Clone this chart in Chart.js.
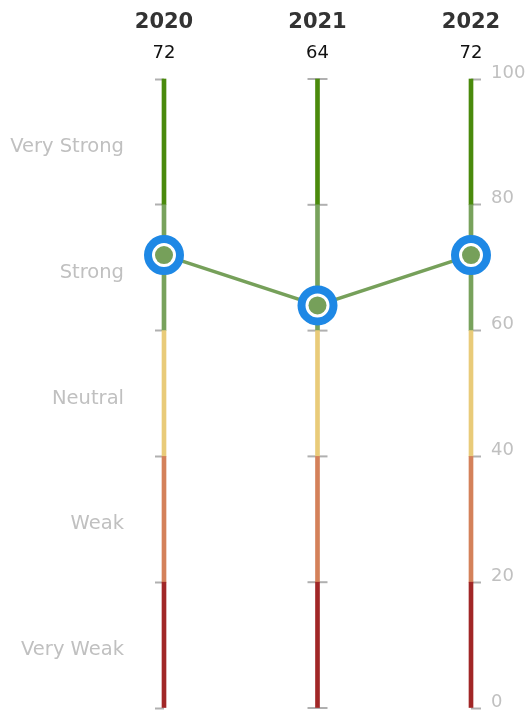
<!DOCTYPE html>
<html>
<head>
<meta charset="utf-8">
<script src="https://cdn.jsdelivr.net/npm/chart.js@4.4.0/dist/chart.umd.min.js"></script>
<style>
  html, body { margin: 0; padding: 0; background: #fff; }
  #wrap { width: 530px; height: 711px; }
</style>
</head>
<body>
<div id="wrap"><canvas id="chart"></canvas></div>
<script>
// Chart data
const years = ['2020', '2021', '2022'];
const scores = [72, 64, 72];
const bandNames = ['Very Weak', 'Weak', 'Neutral', 'Strong', 'Very Strong'];
const bandEdges = [0, 20, 40, 60, 80, 100];
const bandColors = ['#a12727', '#d4815a', '#e9cb79', '#78a25c', '#4a8a0c'];

const FONT = "'DejaVu Sans', sans-serif";

// One floating bar per band at every year, drawn on top of each other
const bandSets = bandNames.map((name, i) => ({
    type: 'bar',
    label: name,
    data: years.map(() => [bandEdges[i], bandEdges[i + 1]]),
    backgroundColor: bandColors[i],
    barThickness: 4,
    grouped: false,
    clip: false,
    order: 10
}));

// Short tick marks on both sides of the middle line
const middleTicks = {
    id: 'middleTicks',
    beforeDatasetsDraw(chart) {
        const x = chart.scales.x;
        const y = chart.scales.y;
        const ctx = chart.ctx;
        const px = x.getPixelForValue(1);
        ctx.save();
        ctx.strokeStyle = '#b0b0b0';
        ctx.lineWidth = 2;
        y.ticks.forEach(t => {
            const py = y.getPixelForValue(t.value);
            ctx.beginPath();
            ctx.moveTo(px - 10, py);
            ctx.lineTo(px + 10, py);
            ctx.stroke();
        });
        ctx.restore();
    }
};

// Fixed axis sizes so the plot area lands where the reference has it
function fixSize(w, h) {
    return scale => {
        if (w != null) scale.width = w;
        if (h != null) scale.height = h;
        scale.paddingTop = 0;
        scale.paddingBottom = 0;
        scale.paddingLeft = 0;
        scale.paddingRight = 0;
    };
}

const ctx = document.getElementById('chart').getContext('2d');
new Chart(ctx, {
    data: {
        labels: years,
        datasets: [
            ...bandSets,
            {
                type: 'line',
                data: scores,
                borderColor: '#76a05a',
                borderWidth: 3.5,
                pointRadius: 0,
                clip: false,
                order: 3
            },
            {
                type: 'line',
                data: scores,
                showLine: false,
                pointRadius: 16,
                pointBorderWidth: 8,
                pointBorderColor: '#1e88e5',
                pointBackgroundColor: '#ffffff',
                pointHoverRadius: 16,
                clip: false,
                order: 2
            },
            {
                type: 'line',
                data: scores,
                showLine: false,
                pointRadius: 9,
                pointBorderWidth: 0,
                pointBackgroundColor: '#76a05a',
                pointHoverRadius: 9,
                clip: false,
                order: 1
            }
        ]
    },
    options: {
        responsive: true,
        maintainAspectRatio: false,
        animation: false,
        devicePixelRatio: 1,
        layout: { autoPadding: false, padding: { left: 8, right: 0, top: 8, bottom: 3 } },
        plugins: {
            legend: { display: false },
            tooltip: { enabled: false }
        },
        scales: {
            x: {
                type: 'category',
                position: 'top',
                offset: false,
                weight: 2,
                grid: { display: false, drawTicks: false },
                border: { display: false },
                ticks: { color: '#333333', font: { family: FONT, size: 21, weight: 'bold' }, padding: 2 },
                afterFit: fixSize(null, 29.6)
            },
            x2: {
                type: 'category',
                labels: scores.map(String),
                position: 'top',
                offset: false,
                weight: 1,
                grid: { display: false, drawTicks: false },
                border: { display: false },
                ticks: { color: '#111111', font: { family: FONT, size: 18 }, padding: 15 },
                afterFit: fixSize(null, 41.4)
            },
            y: {
                position: 'right',
                min: 0,
                max: 100,
                ticks: {
                    stepSize: 20,
                    color: '#c0c0c0',
                    font: { family: FONT, size: 18 },
                    padding: 10,
                    labelOffset: -6
                },
                grid: { drawOnChartArea: false, tickLength: 10, tickColor: '#b0b0b0', tickWidth: 2 },
                border: { display: false },
                afterFit: fixSize(59, null)
            },
            yl: {
                position: 'left',
                min: 0,
                max: 100,
                ticks: {
                    stepSize: 10,
                    autoSkip: false,
                    color: '#c0c0c0',
                    font: { family: FONT, size: 19.5 },
                    padding: 31,
                    labelOffset: 5,
                    callback: v => (v % 20 === 10 ? bandNames[(v - 10) / 20] : '')
                },
                grid: {
                    drawOnChartArea: false,
                    tickLength: 9,
                    tickWidth: 2,
                    tickColor: c => (c.tick && c.tick.value % 20 === 0 ? '#b0b0b0' : 'rgba(0,0,0,0)')
                },
                border: { display: false },
                afterFit: fixSize(156, null)
            }
        }
    },
    plugins: [middleTicks]
});
</script>
</body>
</html>
